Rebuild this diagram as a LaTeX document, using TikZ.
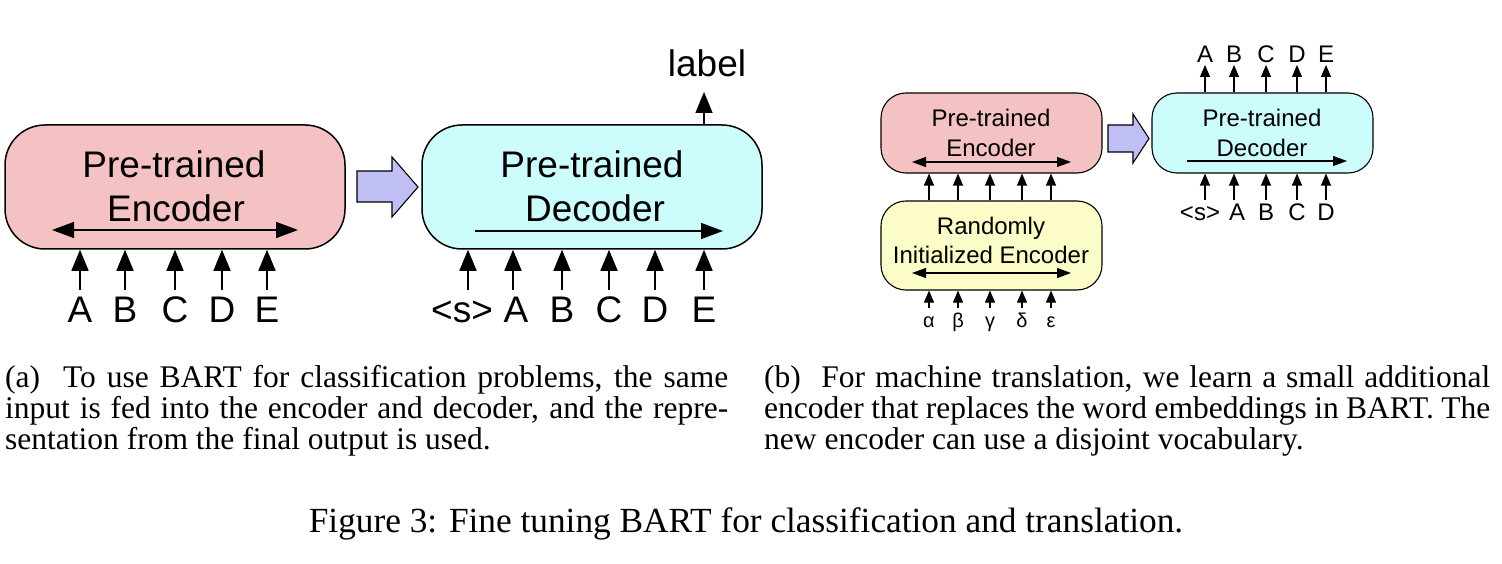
\documentclass[tikz,border=0pt]{standalone}
\usepackage{fontspec}
\setmainfont{Liberation Serif}
\newfontfamily\diagfont{Liberation Sans}
\usetikzlibrary{arrows.meta}
\definecolor{encpink}{HTML}{F4C2C2}
\definecolor{deccyan}{HTML}{CCFCFC}
\definecolor{randyel}{HTML}{FCFCC8}
\definecolor{blocklav}{HTML}{BFBFF5}
\begin{document}
\begin{tikzpicture}[x=1pt,y=-1pt,
  bigbox/.style={draw, line width=1.5pt, rounded corners=40pt, minimum width=340pt, minimum height=124pt, inner sep=0pt},
  smallbox/.style={draw, line width=1.1pt, rounded corners=25pt, minimum width=221pt, inner sep=0pt},
  bigtxt/.style={font=\diagfont\fontsize{37}{44}\selectfont, inner sep=0pt, anchor=base},
  smalltxt/.style={font=\diagfont\fontsize{24}{30}\selectfont, inner sep=0pt, anchor=base},
  tinytxt/.style={font=\diagfont\fontsize{24}{28}\selectfont, inner sep=0pt, anchor=base},
  greektxt/.style={font=\diagfont\fontsize{20}{24}\selectfont, inner sep=0pt, anchor=base},
  upA/.style={line width=1.5pt, -{Triangle[length=21pt,width=17pt]}},
  dblA/.style={line width=1.5pt, {Triangle[length=22pt,width=16pt]}-{Triangle[length=22pt,width=16pt]}},
  oneA/.style={line width=1.5pt, -{Triangle[length=22pt,width=16pt]}},
  upB/.style={line width=1.1pt, -{Triangle[length=12pt,width=10pt]}},
  dblB/.style={line width=1.1pt, {Triangle[length=14pt,width=10pt]}-{Triangle[length=14pt,width=10pt]}},
  oneB/.style={line width=1.1pt, -{Triangle[length=14pt,width=10pt]}},
  blockarr/.style={draw, fill=blocklav, line width=1.1pt, line join=miter},
  capnode/.style={font=\fontsize{31.5}{31}\selectfont, inner sep=0pt},
  figcapnode/.style={font=\fontsize{35.3}{40}\selectfont, inner sep=0pt}
]
\useasboundingbox (0,0) rectangle (1502,564);

% ---------------- panel (a) ----------------
\node[bigbox, fill=encpink] (encA) at (175,187) {};
\node[bigtxt] (encAt1) at (174,178) {Pre-trained};
\node[bigtxt] (encAt2) at (176,222) {Encoder};
\coordinate (encAl) at (52,230);
\coordinate (encAr) at (298,230);
\draw[dblA] (encAl) -- (encAr);
\foreach \x/\t [count=\i] in {80/A,125/B,175/C,222/D,267/E} {
  \node[bigtxt] (inA\i) at (\x,322) {\t};
  \draw[upA] ([yshift=32pt]inA\i.base) -- (inA\i.base |- encA.south);
}

\draw[blockarr] (357,171) -- (392,171) -- (392,157) -- (418,187) -- (392,217) -- (392,202) -- (357,202) -- cycle;

\node[bigbox, fill=deccyan] (decA) at (592,187) {};
\node[bigtxt] (decAt1) at (592,178) {Pre-trained};
\node[bigtxt] (decAt2) at (595,222) {Decoder};
\coordinate (decAl) at (475,231);
\coordinate (decAr) at (723,231);
\draw[oneA] (decAl) -- (decAr);
\foreach \x/\lx/\t [count=\i] in {468/462/<s>,513/516/A,562/562/B,609/609/C,655/655/D,704/704/E} {
  \node[bigtxt] (inD\i) at (\lx,322) {\t};
  \draw[upA] (\x,290) -- (\x,0 |- decA.south);
}
\node[bigtxt] (lab) at (707,77) {label};
\draw[upA] (704,0 |- decA.north) -- (704,92);

% ---------------- panel (b) ----------------
\node[smallbox, fill=encpink, minimum height=80pt] (encB) at (991.5,133) {};
\node[smalltxt] (encBt1) at (991,127) {Pre-trained};
\node[smalltxt] (encBt2) at (991,157) {Encoder};
\coordinate (encBl) at (912,162);
\coordinate (encBr) at (1071,162);
\draw[dblB] (encBl) -- (encBr);

\node[smallbox, fill=randyel, minimum height=89pt] (ranB) at (991.5,245.5) {};
\node[smalltxt] (ranBt1) at (991,235) {Randomly};
\node[smalltxt] (ranBt2) at (991,263) {Initialized Encoder};
\coordinate (ranBl) at (912,273);
\coordinate (ranBr) at (1071,273);
\draw[dblB] (ranBl) -- (ranBr);

\foreach \x/\t [count=\i] in {929/α,958/β,990/γ,1022/δ,1051/ε} {
  \node[greektxt] (gr\i) at (\x,327) {\t};
  \draw[upB] ([yshift=19pt]gr\i.base) -- (gr\i.base |- ranB.south);
  \draw[upB] (gr\i.base |- ranB.north) -- (gr\i.base |- encB.south);
}

\draw[blockarr] (1108,125) -- (1133,125) -- (1133,114) -- (1149,138.5) -- (1133,163) -- (1133,152) -- (1108,152) -- cycle;

\node[smallbox, fill=deccyan, minimum height=80pt] (decB) at (1262.5,133) {};
\node[smalltxt] (decBt1) at (1262,127) {Pre-trained};
\node[smalltxt] (decBt2) at (1262,157) {Decoder};
\coordinate (decBl) at (1187,161);
\coordinate (decBr) at (1347,161);
\draw[oneB] (decBl) -- (decBr);
\foreach \x/\lx/\t [count=\i] in {1205/1200/<s>,1234/1237/A,1266/1266/B,1297/1297/C,1326/1326/D} {
  \node[tinytxt] (inB\i) at (\lx,221) {\t};
  \draw[upB] (\x,200) -- (\x,0 |- decB.south);
}
\foreach \x/\t [count=\i] in {1205/A,1234/B,1266/C,1297/D,1326/E} {
  \node[tinytxt] (outB\i) at (\x,63) {\t};
  \draw[upB] (outB\i.base |- decB.north) -- ([yshift=-2pt]outB\i.base);
}

% ---------------- captions ----------------
\node[capnode, anchor=base west] (capA1) at (5,387) {\hbox to 723pt{(a)\hskip 0.5em plus 0.3em To use BART for classification problems, the same}};
\node[capnode, anchor=base west] (capA2) at (5,418) {\hbox to 723pt{input is fed into the encoder and decoder, and the repre-}};
\node[capnode, anchor=base west] (capA3) at (5,449) {sentation from the final output is used.};
\node[capnode, anchor=base west] (capB1) at (764,387) {\hbox to 726pt{(b)\hskip 0.5em plus 0.3em For machine translation, we learn a small additional}};
\node[capnode, anchor=base west] (capB2) at (764,418) {\hbox to 726pt{encoder that replaces the word embeddings in BART. The}};
\node[capnode, anchor=base west] (capB3) at (764,449) {new encoder can use a disjoint vocabulary.};
\node[figcapnode, anchor=base] (figcap) at (746,532) {Figure 3: Fine tuning BART for classification and translation.};
\end{tikzpicture}
\end{document}
